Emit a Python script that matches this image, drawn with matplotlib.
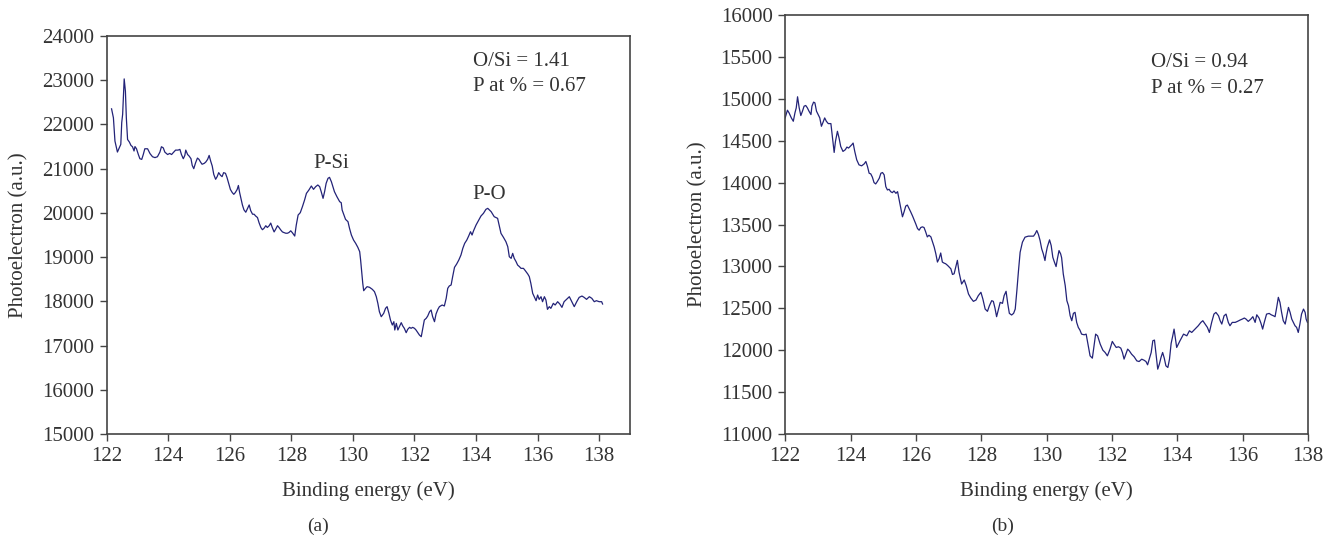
import matplotlib.pyplot as plt

# panel (a): spectrum
energy_a = [
    122.16, 122.22, 122.27, 122.35, 122.41, 122.46, 122.49, 122.52, 122.55, 122.57,
    122.61, 122.64, 122.68, 122.74, 122.79, 122.84, 122.89, 122.92, 122.97, 123.03,
    123.08, 123.14, 123.19, 123.24, 123.33, 123.41, 123.49, 123.57, 123.65, 123.73,
    123.78, 123.84, 123.89, 123.98, 124.05, 124.11, 124.16, 124.24, 124.32, 124.38,
    124.43, 124.49, 124.54, 124.57, 124.63, 124.68, 124.74, 124.78, 124.83, 124.89,
    124.95, 125.00, 125.05, 125.10, 125.17, 125.22, 125.28, 125.33, 125.38, 125.43,
    125.48, 125.54, 125.59, 125.64, 125.70, 125.75, 125.80, 125.86, 125.91, 125.97,
    126.02, 126.08, 126.13, 126.18, 126.24, 126.28, 126.32, 126.37, 126.41, 126.46,
    126.52, 126.57, 126.63, 126.68, 126.74, 126.79, 126.84, 126.90, 126.95, 127.01,
    127.06, 127.11, 127.17, 127.22, 127.28, 127.33, 127.38, 127.44, 127.49, 127.55,
    127.60, 127.65, 127.71, 127.76, 127.82, 127.87, 127.92, 127.98, 128.03, 128.11,
    128.16, 128.22, 128.29, 128.36, 128.43, 128.49, 128.57, 128.65, 128.72, 128.79,
    128.86, 128.92, 128.97, 129.03, 129.08, 129.13, 129.19, 129.24, 129.30, 129.35,
    129.40, 129.48, 129.57, 129.62, 129.65, 129.71, 129.76, 129.84, 129.89, 129.95,
    130.02, 130.09, 130.16, 130.22, 130.25, 130.28, 130.32, 130.35, 130.41, 130.46,
    130.54, 130.63, 130.70, 130.76, 130.81, 130.86, 130.92, 131.00, 131.06, 131.11,
    131.17, 131.22, 131.28, 131.33, 131.36, 131.41, 131.46, 131.51, 131.57, 131.62,
    131.67, 131.73, 131.78, 131.84, 131.89, 131.94, 132.00, 132.05, 132.11, 132.16,
    132.22, 132.27, 132.32, 132.38, 132.43, 132.49, 132.54, 132.59, 132.65, 132.70,
    132.76, 132.81, 132.90, 132.97, 133.03, 133.08, 133.13, 133.19, 133.24, 133.30,
    133.37, 133.44, 133.51, 133.57, 133.63, 133.70, 133.76, 133.82, 133.87, 133.92,
    134.00, 134.09, 134.16, 134.24, 134.32, 134.38, 134.49, 134.59, 134.70, 134.76,
    134.81, 134.89, 134.97, 135.03, 135.08, 135.14, 135.19, 135.24, 135.30, 135.35,
    135.41, 135.46, 135.54, 135.60, 135.68, 135.73, 135.78, 135.84, 135.89, 135.95,
    136.00, 136.05, 136.11, 136.16, 136.22, 136.27, 136.32, 136.38, 136.43, 136.51,
    136.57, 136.65, 136.72, 136.79, 136.86, 136.94, 137.03, 137.11, 137.19, 137.27,
    137.35, 137.44, 137.51, 137.59, 137.68, 137.76, 137.84, 137.91, 138.00, 138.08,
    138.11,
]
counts_a = [
    22353, 22150, 21624, 21376, 21470, 21550, 22040, 22230, 22715, 23030,
    22750, 22150, 21660, 21600, 21526, 21496, 21400, 21500, 21450, 21320,
    21225, 21210, 21320, 21450, 21450, 21340, 21270, 21250, 21270, 21375,
    21496, 21470, 21375, 21320, 21345, 21320, 21360, 21420, 21420, 21436,
    21320, 21225, 21300, 21420, 21320, 21285, 21225, 21075, 21000, 21135,
    21240, 21210, 21150, 21100, 21120, 21150, 21210, 21300, 21170, 21060,
    20870, 20760, 20820, 20910, 20850, 20820, 20910, 20895, 20800, 20650,
    20530, 20460, 20420, 20460, 20530, 20620, 20460, 20310, 20180, 20070,
    20015, 20090, 20180, 20050, 19970, 19970, 19930, 19895, 19780, 19670,
    19620, 19650, 19710, 19670, 19710, 19770, 19670, 19570, 19630, 19710,
    19670, 19620, 19570, 19555, 19540, 19540, 19555, 19595, 19555, 19477,
    19726, 19952, 20005, 20141, 20292, 20442, 20518, 20608, 20533, 20593,
    20631, 20593, 20480, 20329, 20480, 20668, 20781, 20804, 20706, 20593,
    20480, 20367, 20254, 20231, 20065, 19952, 19854, 19801, 19650, 19500,
    19387, 19311, 19221, 19123, 18935, 18708, 18407, 18241, 18294, 18332,
    18317, 18272, 18219, 18105, 17955, 17766, 17653, 17729, 17842, 17880,
    17729, 17578, 17465, 17540, 17352, 17502, 17352, 17427, 17518, 17442,
    17390, 17291, 17367, 17412, 17390, 17412, 17390, 17352, 17291, 17239,
    17201, 17390, 17578, 17616, 17668, 17766, 17804, 17653, 17540, 17714,
    17819, 17880, 17917, 17895, 18068, 18294, 18347, 18370, 18558, 18769,
    18844, 18935, 19048, 19199, 19311, 19387, 19477, 19575, 19500, 19598,
    19726, 19839, 19930, 19990, 20080, 20103, 20028, 19914, 19877, 19688,
    19537, 19447, 19349, 19236, 19010, 18972, 19085, 18972, 18897, 18821,
    18784, 18746, 18746, 18693, 18618, 18558, 18407, 18181, 18105, 18015,
    18143, 18045, 18105, 17992, 18105, 18030, 17819, 17880, 17842, 17955,
    17917, 17992, 17940, 17864, 17992, 18045, 18105, 17992, 17880, 17992,
    18090, 18120, 18090, 18045, 18105, 18068, 17992, 18015, 17992, 17992,
    17940,
]

# panel (b)
energy_b = [
    122.00, 122.07, 122.12, 122.19, 122.25, 122.30, 122.34, 122.38, 122.43, 122.48,
    122.53, 122.58, 122.63, 122.68, 122.73, 122.79, 122.82, 122.87, 122.91, 122.96,
    123.01, 123.06, 123.11, 123.16, 123.21, 123.26, 123.32, 123.40, 123.45, 123.50,
    123.54, 123.60, 123.65, 123.70, 123.77, 123.84, 123.89, 123.94, 123.99, 124.04,
    124.08, 124.13, 124.19, 124.26, 124.34, 124.42, 124.47, 124.52, 124.57, 124.62,
    124.67, 124.72, 124.77, 124.82, 124.88, 124.93, 124.98, 125.03, 125.08, 125.13,
    125.18, 125.23, 125.28, 125.33, 125.39, 125.44, 125.49, 125.54, 125.59, 125.64,
    125.69, 125.74, 125.79, 125.84, 125.90, 125.95, 126.00, 126.05, 126.10, 126.15,
    126.20, 126.25, 126.30, 126.35, 126.40, 126.46, 126.51, 126.56, 126.61, 126.66,
    126.71, 126.76, 126.81, 126.86, 126.91, 126.97, 127.02, 127.07, 127.12, 127.17,
    127.22, 127.27, 127.32, 127.40, 127.48, 127.54, 127.61, 127.68, 127.76, 127.84,
    127.91, 127.99, 128.05, 128.12, 128.19, 128.25, 128.32, 128.37, 128.42, 128.47,
    128.53, 128.58, 128.65, 128.70, 128.76, 128.81, 128.86, 128.93, 128.99, 129.04,
    129.09, 129.14, 129.19, 129.26, 129.34, 129.44, 129.55, 129.60, 129.65, 129.70,
    129.75, 129.80, 129.85, 129.90, 129.95, 129.98, 130.02, 130.09, 130.14, 130.19,
    130.24, 130.29, 130.33, 130.38, 130.43, 130.46, 130.51, 130.57, 130.62, 130.67,
    130.72, 130.77, 130.82, 130.87, 130.92, 130.97, 131.02, 131.07, 131.15, 131.21,
    131.26, 131.33, 131.40, 131.45, 131.50, 131.56, 131.64, 131.72, 131.79, 131.86,
    131.94, 132.01, 132.06, 132.13, 132.20, 132.27, 132.32, 132.37, 132.43, 132.48,
    132.53, 132.60, 132.68, 132.76, 132.83, 132.91, 132.98, 133.04, 133.09, 133.14,
    133.20, 133.25, 133.30, 133.35, 133.40, 133.45, 133.50, 133.55, 133.60, 133.65,
    133.71, 133.76, 133.81, 133.86, 133.90, 133.98, 134.08, 134.19, 134.29, 134.37,
    134.44, 134.54, 134.64, 134.72, 134.78, 134.85, 134.92, 134.98, 135.05, 135.12,
    135.18, 135.26, 135.31, 135.36, 135.43, 135.49, 135.56, 135.61, 135.68, 135.77,
    135.84, 135.92, 135.99, 136.05, 136.10, 136.17, 136.25, 136.31, 136.38, 136.43,
    136.50, 136.56, 136.61, 136.66, 136.73, 136.81, 136.87, 136.94, 136.99, 137.04,
    137.09, 137.14, 137.19, 137.24, 137.30, 137.35, 137.40, 137.45, 137.50, 137.55,
    137.60, 137.65, 137.70, 137.75, 137.80, 137.86, 137.91, 137.94, 137.98,
]
counts_b = [
    14772, 14864, 14832, 14772, 14732, 14832, 14892, 15024, 14892, 14800,
    14852, 14912, 14920, 14892, 14852, 14812, 14912, 14960, 14952, 14852,
    14812, 14772, 14672, 14720, 14772, 14732, 14704, 14704, 14532, 14360,
    14492, 14612, 14532, 14432, 14372, 14392, 14424, 14412, 14432, 14452,
    14472, 14372, 14272, 14212, 14200, 14224, 14252, 14192, 14112, 14104,
    14064, 14000, 13984, 14012, 14052, 14112, 14120, 14092, 13952, 13912,
    13920, 13892, 13880, 13900, 13872, 13892, 13792, 13692, 13592, 13652,
    13720, 13732, 13692, 13652, 13600, 13552, 13504, 13452, 13432, 13464,
    13472, 13464, 13412, 13352, 13372, 13352, 13292, 13232, 13152, 13052,
    13092, 13160, 13052, 13040, 13032, 13012, 12992, 12972, 12904, 12912,
    12992, 13072, 12932, 12790, 12838, 12771, 12671, 12623, 12583, 12599,
    12651, 12691, 12611, 12491, 12464, 12531, 12591, 12583, 12503, 12400,
    12491, 12571, 12559, 12651, 12703, 12559, 12440, 12420, 12440, 12491,
    12711, 12950, 13169, 13289, 13349, 13361, 13361, 13361, 13389, 13428,
    13381, 13309, 13209, 13149, 13070, 13149, 13229, 13317, 13249, 13109,
    13050, 12998, 13090, 13189, 13149, 13102, 12910, 12770, 12591, 12531,
    12412, 12352, 12440, 12452, 12332, 12272, 12240, 12192, 12184, 12192,
    12081, 11933, 11905, 12053, 12192, 12172, 12073, 12001, 11973, 11933,
    12013, 12105, 12073, 12033, 12041, 12025, 11973, 11894, 11961, 12013,
    11993, 11953, 11921, 11873, 11865, 11893, 11881, 11865, 11826, 11893,
    11973, 12113, 12121, 11953, 11774, 11834, 11913, 11973, 11905, 11814,
    11794, 11893, 12081, 12172, 12252, 12033, 12112, 12192, 12172, 12232,
    12212, 12252, 12292, 12332, 12352, 12312, 12272, 12212, 12332, 12431,
    12451, 12411, 12352, 12312, 12411, 12431, 12332, 12292, 12332, 12332,
    12344, 12360, 12372, 12384, 12372, 12344, 12372, 12400, 12332, 12423,
    12384, 12320, 12252, 12332, 12431, 12439, 12423, 12411, 12400, 12511,
    12631, 12571, 12451, 12352, 12312, 12411, 12511, 12451, 12372, 12332,
    12292, 12272, 12212, 12312, 12431, 12491, 12451, 12372, 12332,
]

xticks = [122, 124, 126, 128, 130, 132, 134, 136, 138]
yticks_a = list(range(15000, 24001, 1000))
yticks_b = list(range(11000, 16001, 500))

plt.rcParams['font.family'] = ['Liberation Serif', 'DejaVu Serif']
text_col = '#333333'
line_col = '#232378'
fs = 15

fig = plt.figure(figsize=(13.33, 5.43), dpi=100)
ax_a = fig.add_axes([0.080, 0.2007, 0.3926, 0.733])
ax_b = fig.add_axes([0.589, 0.2007, 0.3923, 0.7717])

panels = [
    (ax_a, energy_a, counts_a, (122, 139), yticks_a),
    (ax_b, energy_b, counts_b, (122, 138), yticks_b),
]

for ax, xs, ys, xlim, yt in panels:
    ax.plot(xs, ys, color=line_col, lw=0.9)
    ax.set_xlim(*xlim)
    ax.set_ylim(yt[0], yt[-1])
    ax.set_xticks(xticks)
    ax.set_yticks(yt)
    for s in ax.spines.values():
        s.set_color('#444444')
        s.set_linewidth(1.2)
    ax.tick_params(direction='out', length=5, width=1.0, colors='#444444',
                   labelcolor=text_col, labelsize=fs, pad=4)
    ax.set_xlabel('Binding energy (eV)', fontsize=fs, color=text_col)
    ax.set_ylabel('Photoelectron (a.u.)', fontsize=fs, color=text_col)

ax_a.yaxis.set_label_coords(-0.150, 0.5)
ax_b.yaxis.set_label_coords(-0.149, 0.5)
ax_a.xaxis.set_label_coords(0.5, -0.118)
ax_b.xaxis.set_label_coords(0.5, -0.112)

fig.text(318 / 1333, 1 - 526 / 543, '(a)', ha='center', va='center', fontsize=14, color=text_col)
fig.text(1003 / 1333, 1 - 526 / 543, '(b)', ha='center', va='center', fontsize=14, color=text_col)

ax_a.text(133.9, 23413, 'O/Si = 1.41', fontsize=fs, color=text_col, va='center')
ax_a.text(133.9, 22847, 'P at % = 0.67', fontsize=fs, color=text_col, va='center')
ax_a.text(129.28, 21122, 'P-Si', fontsize=fs, color=text_col, ha='center', va='center')
ax_a.text(134.44, 20405, 'P-O', fontsize=fs, color=text_col, ha='center', va='center')

ax_b.text(133.19, 15438, 'O/Si = 0.94', fontsize=fs, color=text_col, va='center')
ax_b.text(133.19, 15123, 'P at % = 0.27', fontsize=fs, color=text_col, va='center')

fig.savefig('out.png', dpi=100)
